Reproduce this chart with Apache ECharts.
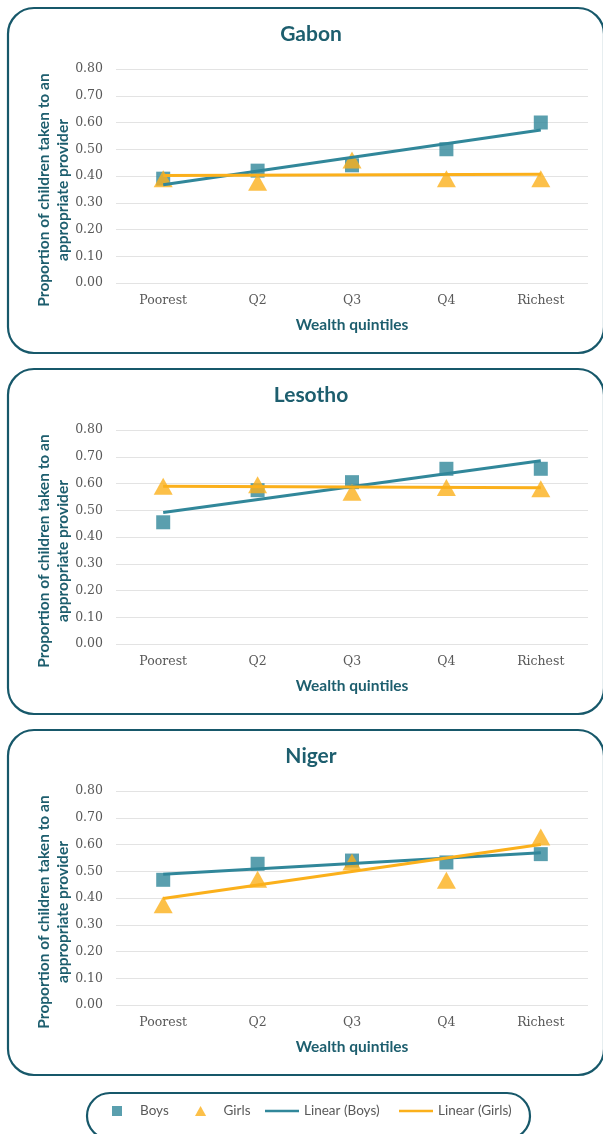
<!DOCTYPE html>
<html>
<head>
<meta charset="utf-8">
<script src="https://cdn.jsdelivr.net/npm/echarts@6/dist/echarts.min.js"></script>
<style>
html,body{margin:0;padding:0;background:#fff;}
#chart{width:603px;height:1134px;}
</style>
</head>
<body>
<div id="chart"></div>
<script>
// ---- data ----
const categories = ['Poorest', 'Q2', 'Q3', 'Q4', 'Richest'];
const countries = ['Gabon', 'Lesotho', 'Niger'];
const yTicks = [0, 0.1, 0.2, 0.3, 0.4, 0.5, 0.6, 0.7, 0.8];

const gabonBoys = [0.39, 0.42, 0.44, 0.50, 0.60];
const gabonGirls = [0.39, 0.377, 0.46, 0.39, 0.39];
const gabonBoysTrend = [0.367, 0.572];   // Poorest, Richest
const gabonGirlsTrend = [0.402, 0.407];

const lesothoBoys = [0.455, 0.575, 0.605, 0.655, 0.655];
const lesothoGirls = [0.59, 0.595, 0.567, 0.585, 0.58];
const lesothoBoysTrend = [0.492, 0.685];
const lesothoGirlsTrend = [0.59, 0.584];

const nigerBoys = [0.468, 0.528, 0.54, 0.533, 0.564];
const nigerGirls = [0.375, 0.47, 0.535, 0.466, 0.628];
const nigerBoysTrend = [0.489, 0.569];
const nigerGirlsTrend = [0.398, 0.60];

const seriesNames = ['Boys', 'Girls', 'Linear (Boys)', 'Linear (Girls)'];

// ---- styling ----
const TEAL = '#31879a';
const GOLD = '#fbb01b';
const FRAME = '#17586a';
const HEAD = '#1d5e6e';
const GREY = '#595959';
const panelData = [
  [gabonBoys, gabonGirls, gabonBoysTrend, gabonGirlsTrend],
  [lesothoBoys, lesothoGirls, lesothoBoysTrend, lesothoGirlsTrend],
  [nigerBoys, nigerGirls, nigerBoysTrend, nigerGirlsTrend]
];
const STEP = 361;

const grid = [], xAxis = [], yAxis = [], series = [], title = [], graphic = [];

countries.forEach((c, i) => {
  const off = i * STEP;
  grid.push({left: 116, top: 69 + off, width: 472, height: 214});
  title.push({
    text: c, left: 306, top: 19 + off, textAlign: 'center',
    textStyle: {fontFamily: 'Lato', fontWeight: 'bold', fontSize: 21, color: HEAD}
  });
  xAxis.push({
    type: 'category', gridIndex: i, data: categories, boundaryGap: true,
    axisLine: {show: false}, axisTick: {show: false},
    axisLabel: {margin: 11, color: GREY, fontFamily: 'DejaVu Serif', fontSize: 12.5},
    name: 'Wealth quintiles', nameLocation: 'middle', nameGap: 34,
    nameTextStyle: {fontFamily: 'Lato', fontWeight: 'bold', fontSize: 15.5, color: HEAD}
  });
  yAxis.push({
    type: 'value', gridIndex: i, min: yTicks[0], max: yTicks[yTicks.length - 1], interval: 0.1,
    axisLine: {show: false}, axisTick: {show: false},
    splitLine: {lineStyle: {color: '#e3e3e3', width: 1}},
    axisLabel: {margin: 13, color: GREY, fontFamily: 'DejaVu Serif', fontSize: 12.5,
      formatter: v => v.toFixed(2)}
  });
  const [boys, girls, bt, gt] = panelData[i];
  series.push({
    name: seriesNames[0], type: 'scatter', xAxisIndex: i, yAxisIndex: i, data: boys,
    symbol: 'rect', symbolSize: 14, itemStyle: {color: TEAL}, z: 2
  });
  series.push({
    name: seriesNames[1], type: 'scatter', xAxisIndex: i, yAxisIndex: i, data: girls,
    symbol: 'triangle', symbolSize: [19, 17], itemStyle: {color: GOLD}, z: 3
  });
  series.push({
    name: seriesNames[2], type: 'line', xAxisIndex: i, yAxisIndex: i,
    data: [[categories[0], bt[0]], [categories[categories.length - 1], bt[1]]],
    symbol: 'none', lineStyle: {color: TEAL, width: 3}, itemStyle: {color: TEAL}, z: 4
  });
  series.push({
    name: seriesNames[3], type: 'line', xAxisIndex: i, yAxisIndex: i,
    data: [[categories[0], gt[0]], [categories[categories.length - 1], gt[1]]],
    symbol: 'none', lineStyle: {color: GOLD, width: 3}, itemStyle: {color: GOLD}, z: 5
  });
  graphic.push({
    type: 'rect', z: 0, silent: true,
    shape: {x: 8, y: 8 + off, width: 596, height: 345, r: 26},
    style: {fill: 'none', stroke: FRAME, lineWidth: 2.2}
  });
  graphic.push({
    type: 'text', x: 53, y: 190 + off, rotation: Math.PI / 2, silent: true,
    style: {
      text: 'Proportion of children taken to an\nappropriate provider',
      font: 'bold 15.5px Lato', fill: HEAD, align: 'center', verticalAlign: 'middle', lineHeight: 19
    }
  });
});

graphic.push({
  type: 'rect', z: 0, silent: true,
  shape: {x: 87, y: 1093, width: 443, height: 46, r: 23},
  style: {fill: 'none', stroke: FRAME, lineWidth: 2.2}
});

const legendBase = {
  top: 1104, padding: 0, itemHeight: 10,
  textStyle: {fontFamily: 'Lato', fontSize: 13.5, color: GREY}
};
const legend = [
  Object.assign({}, legendBase, {left: 112, itemWidth: 36,
    data: [{name: 'Boys', icon: 'path://M0,0H10V10H0Z'}]}),
  Object.assign({}, legendBase, {left: 195, itemWidth: 36,
    data: [{name: 'Girls', icon: 'path://M5,0L10,9H0Z'}]}),
  Object.assign({}, legendBase, {left: 265, itemWidth: 34,
    data: [{name: 'Linear (Boys)', icon: 'path://M0,0H34V2.5H0Z'}]}),
  Object.assign({}, legendBase, {left: 399, itemWidth: 34,
    data: [{name: 'Linear (Girls)', icon: 'path://M0,0H34V2.5H0Z'}]})
];

const chart = echarts.init(document.getElementById('chart'));
chart.setOption({
  animation: false,
  title, grid, xAxis, yAxis, series, graphic, legend
});
</script>
</body>
</html>
